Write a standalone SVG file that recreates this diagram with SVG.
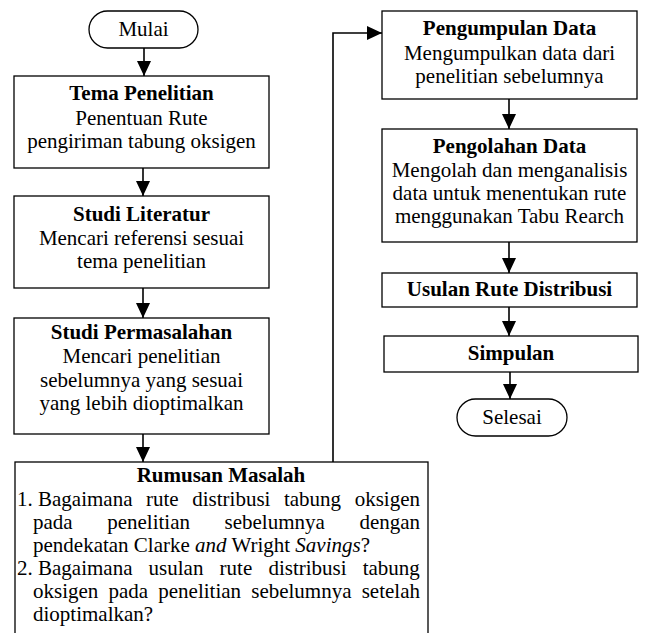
<svg xmlns="http://www.w3.org/2000/svg" width="645" height="633" viewBox="0 0 645 633">
<defs>
<marker id="ah" viewBox="0 0 15 14" refX="15" refY="7" markerWidth="15" markerHeight="14" markerUnits="userSpaceOnUse" orient="auto">
<path d="M0,0 L15,7 L0,14 z" fill="#000"/>
</marker>
<style>
.box{fill:#fff;stroke:#000;stroke-width:1.3}
.t{font-family:"Liberation Serif","Times New Roman",serif;font-size:21px;fill:#000}
.c{text-anchor:middle}
.b{font-weight:bold}
.con{fill:none;stroke:#000;stroke-width:1.6}
</style>
</defs>
<rect width="645" height="633" fill="#fff"/>

<g id="connectors">
<path class="con" d="M144,48 V76" marker-end="url(#ah)"/>
<path class="con" d="M143,168 V196" marker-end="url(#ah)"/>
<path class="con" d="M143,288 V318" marker-end="url(#ah)"/>
<path class="con" d="M143,434 V462" marker-end="url(#ah)"/>
<path class="con" d="M333,462 V33 H382" marker-end="url(#ah)"/>
<path class="con" d="M509,99 V129" marker-end="url(#ah)"/>
<path class="con" d="M509,242 V273" marker-end="url(#ah)"/>
<path class="con" d="M509,307 V336" marker-end="url(#ah)"/>
<path class="con" d="M510,372 V399" marker-end="url(#ah)"/>
</g>

<g id="mulai">
<rect class="box" x="89" y="11" width="109" height="37" rx="18.5"/>
<text class="t c" x="143.5" y="36">Mulai</text>
</g>

<g id="tema">
<rect class="box" x="14" y="76" width="255" height="92"/>
<text class="t c b" x="141.5" y="100">Tema Penelitian</text>
<text class="t c" x="141.5" y="125">Penentuan Rute</text>
<text class="t c" x="141.5" y="148">pengiriman tabung oksigen</text>
</g>

<g id="literatur">
<rect class="box" x="14" y="196" width="255" height="92"/>
<text class="t c b" x="141.5" y="221">Studi Literatur</text>
<text class="t c" x="141.5" y="245">Mencari referensi sesuai</text>
<text class="t c" x="141.5" y="268">tema penelitian</text>
</g>

<g id="permasalahan">
<rect class="box" x="14" y="318" width="255" height="116"/>
<text class="t c b" x="141.5" y="339">Studi Permasalahan</text>
<text class="t c" x="141.5" y="363">Mencari penelitian</text>
<text class="t c" x="141.5" y="387">sebelumnya yang sesuai</text>
<text class="t c" x="141.5" y="410">yang lebih dioptimalkan</text>
</g>

<g id="rumusan">
<rect class="box" x="15" y="462" width="413" height="190"/>
<text class="t c b" x="221" y="482">Rumusan Masalah</text>
<text class="t" x="17" y="506">1.</text>
<text class="t" x="38" y="506" word-spacing="8.3">Bagaimana rute distribusi tabung oksigen</text>
<text class="t" x="33" y="529" word-spacing="29.3">pada penelitian sebelumnya dengan</text>
<text class="t" x="33" y="552">pendekatan Clarke <tspan font-style="italic">and</tspan> Wright <tspan font-style="italic">Savings</tspan>?</text>
<text class="t" x="17" y="575">2.</text>
<text class="t" x="38" y="575" word-spacing="10.9">Bagaimana usulan rute distribusi tabung</text>
<text class="t" x="33" y="598" word-spacing="4.9">oksigen pada penelitian sebelumnya setelah</text>
<text class="t" x="33" y="621">dioptimalkan?</text>
</g>

<g id="pengumpulan">
<rect class="box" x="382" y="11" width="255" height="88"/>
<text class="t c b" x="509.5" y="35">Pengumpulan Data</text>
<text class="t c" x="509.5" y="60">Mengumpulkan data dari</text>
<text class="t c" x="509.5" y="83">penelitian sebelumnya</text>
</g>

<g id="pengolahan">
<rect class="box" x="382" y="129" width="255" height="113"/>
<text class="t c b" x="509.5" y="153">Pengolahan Data</text>
<text class="t c" x="509.5" y="177">Mengolah dan menganalisis</text>
<text class="t c" x="509.5" y="200">data untuk menentukan rute</text>
<text class="t c" x="509.5" y="223">menggunakan Tabu Rearch</text>
</g>

<g id="usulan">
<rect class="box" x="382" y="273" width="255" height="34"/>
<text class="t c b" x="509.5" y="296">Usulan Rute Distribusi</text>
</g>

<g id="simpulan">
<rect class="box" x="384" y="336" width="254" height="36"/>
<text class="t c b" x="511" y="360">Simpulan</text>
</g>

<g id="selesai">
<rect class="box" x="457" y="399" width="110" height="37" rx="18.5"/>
<text class="t c" x="512" y="424">Selesai</text>
</g>
</svg>
